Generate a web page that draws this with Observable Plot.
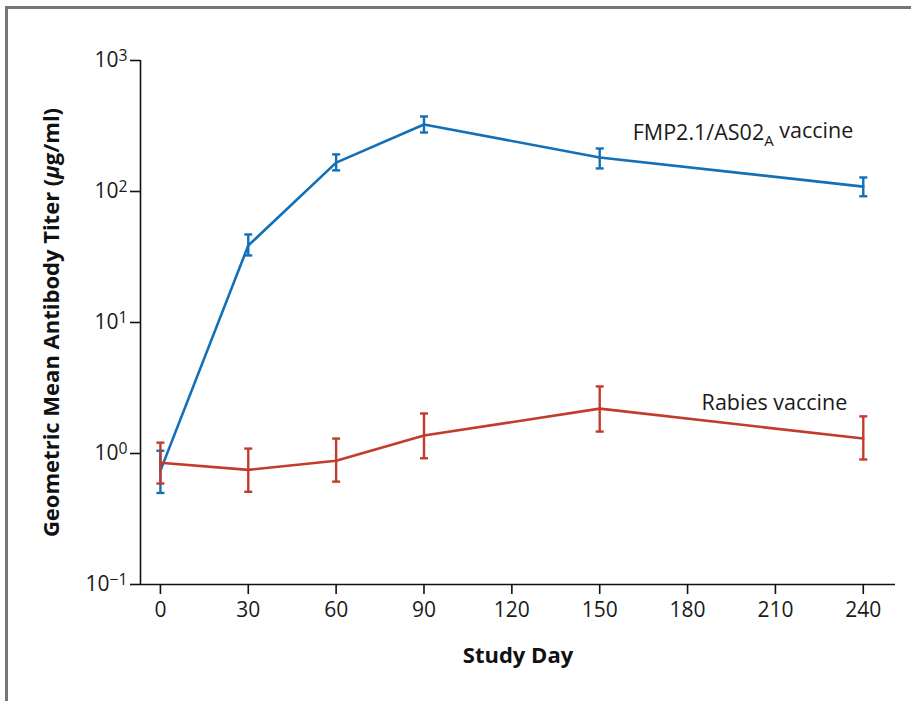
<!DOCTYPE html>
<html><head><meta charset="utf-8">
<script src="https://cdn.jsdelivr.net/npm/d3@7"></script>
<script src="https://cdn.jsdelivr.net/npm/@observablehq/plot@0.6"></script>
<style>
body{margin:0;background:#fff;}
#wrap{position:relative;width:911px;height:701px;overflow:hidden;}
#border{position:absolute;left:5px;top:6px;right:-20px;bottom:-20px;border-top:3px solid #767676;border-left:3px solid #767676;}
#chart{position:absolute;left:0;top:0;}
</style></head>
<body><div id="wrap"><div id="border"></div><div id="chart"></div></div>
<script>
const days = [0, 30, 60, 90, 150, 240];
const fmpMean = [0.74, 38.7, 166, 325, 182, 109];
const fmpLow  = [0.50, 32.5, 145, 282, 150, 92];
const fmpHigh = [1.05, 47, 192, 374, 213, 128];
const rabMean = [0.85, 0.75, 0.88, 1.37, 2.2, 1.3];
const rabLow  = [0.59, 0.51, 0.61, 0.92, 1.47, 0.90];
const rabHigh = [1.21, 1.09, 1.30, 2.02, 3.25, 1.92];
const xTicks = [0, 30, 60, 90, 120, 150, 180, 210, 240];
const yTicks = [0.1, 1, 10, 100, 1000];
const seriesNames = ["FMP2.1/AS02A vaccine", "Rabies vaccine"];
const yLabel = "Geometric Mean Antibody Titer (μg/ml)";
const xLabel = "Study Day";

const BLUE = "#1170b8", RED = "#c23b2c";
const fmp = days.map((d, i) => ({day: d, mean: fmpMean[i], low: fmpLow[i], high: fmpHigh[i]}));
const rab = days.map((d, i) => ({day: d, mean: rabMean[i], low: rabLow[i], high: rabHigh[i]}));

const cap = {draw(ctx, size) { const r = Math.sqrt(size / Math.PI); ctx.moveTo(-r, 0); ctx.lineTo(r, 0); }};

function series(data, color) {
  return [
    Plot.line(data, {x: "day", y: "mean", stroke: color, strokeWidth: 2.6}),
    Plot.ruleX(data, {x: "day", y1: "low", y2: "high", stroke: color, strokeWidth: 2.4}),
    Plot.dot(data, {x: "day", y: "low", symbol: cap, r: 4, stroke: color, strokeWidth: 2.4}),
    Plot.dot(data, {x: "day", y: "high", symbol: cap, r: 4, stroke: color, strokeWidth: 2.4})
  ];
}

const chart = Plot.plot({
  width: 911, height: 701,
  marginLeft: 140, marginRight: 16, marginTop: 60, marginBottom: 117,
  style: {fontFamily: "'Open Sans', sans-serif", fontSize: "21px", color: "#1a1a1a", background: "transparent"},
  x: {domain: [-6.8, 251]},
  y: {type: "log", domain: [0.1, 1000]},
  marks: [
    Plot.ruleX([-6.8], {stroke: "#111", strokeWidth: 1.6}),
    Plot.ruleY([0.1], {stroke: "#111", strokeWidth: 1.6}),
    Plot.axisX({ticks: xTicks, tickSize: 10, tickPadding: 8, label: null, fontSize: 21, stroke: "#111", strokeWidth: 1.6}),
    Plot.axisY({ticks: yTicks, tickSize: 10, tickPadding: 3, label: null, fontSize: 21, stroke: "#111", strokeWidth: 1.6,
      tickFormat: d => "10^" + Math.round(Math.log10(d))}),
    ...series(fmp, BLUE),
    ...series(rab, RED),
    Plot.text([seriesNames[0]], {x: 240, y: 277, dx: -10, textAnchor: "end", fontSize: 21.5, fill: "#1a1a1a"}),
    Plot.text([seriesNames[1]], {x: 240, y: 2.41, dx: -16, textAnchor: "end", fontSize: 21.5, fill: "#1a1a1a"}),
    Plot.text([yLabel], {frameAnchor: "left", rotate: -90, dx: -89, textAnchor: "middle", lineAnchor: "middle", fontWeight: "bold", fontSize: 22, fill: "#111"}),
    Plot.text([xLabel], {frameAnchor: "bottom", dy: 71, textAnchor: "middle", lineAnchor: "middle", fontWeight: "bold", fontSize: 22, fill: "#111"})
  ]
});
document.getElementById("chart").append(chart);

const NS = "http://www.w3.org/2000/svg";
chart.querySelectorAll('g[aria-label="y-axis tick label"] text').forEach(t => {
  const s = t.textContent; const m = s.match(/^10\^(-?\d+)$/);
  if (!m) return;
  t.textContent = "10";
  const sup = document.createElementNS(NS, "tspan");
  sup.setAttribute("dy", "-0.4em"); sup.setAttribute("font-size", "0.75em");
  sup.textContent = m[1].replace("-", "\u2212");
  t.appendChild(sup);
});
chart.querySelectorAll("text").forEach(t => {
  if (t.textContent === seriesNames[0]) {
    t.textContent = "FMP2.1/AS02";
    const sub = document.createElementNS(NS, "tspan");
    sub.setAttribute("dy", "0.35em"); sub.setAttribute("font-size", "0.7em"); sub.textContent = "A";
    const rest = document.createElementNS(NS, "tspan");
    rest.setAttribute("dy", "-0.35em"); rest.textContent = " vaccine";
    t.appendChild(sub); t.appendChild(rest);
  } else if (t.textContent === yLabel) {
    const [a, b] = yLabel.split("μ");
    t.textContent = a;
    const mu = document.createElementNS(NS, "tspan");
    mu.setAttribute("font-style", "italic"); mu.textContent = "μ";
    t.appendChild(mu); t.appendChild(document.createTextNode(b));
  }
});
</script>
</body></html>
